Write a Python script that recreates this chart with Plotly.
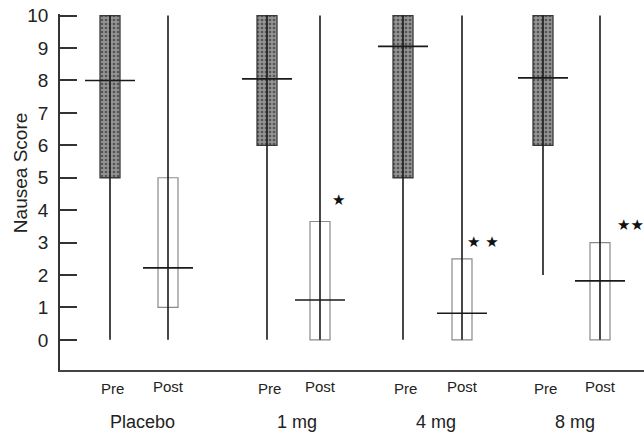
import plotly.graph_objects as go

# ---- data ----
groups = ["Placebo", "1 mg", "4 mg", "8 mg"]
phases = ["Pre", "Post"]
pre_min = [0, 0, 0, 2]
pre_q1 = [5, 6, 5, 6]
pre_med = [8, 8.05, 9.05, 8.08]
pre_q3 = [10, 10, 10, 10]
pre_max = [10, 10, 10, 10]
post_min = [0, 0, 0, 0]
post_q1 = [1, 0, 0, 0]
post_med = [2.22, 1.23, 0.82, 1.82]
post_q3 = [5, 3.65, 2.5, 3.0]
post_max = [10, 10, 10, 10]
sig_labels = ["", "★", "★ ★", "★★"]
sig_y = [None, 4.32, 3.02, 3.55]
y_ticks = list(range(0, 11))

# ---- layout positions (x axis in pixel-like units) ----
pre_x = [110, 267, 403, 543]
post_x = [168, 320, 462, 600]
sig_x = [None, 338, 483, 630]
box_w = 20
med_half = 25

fig = go.Figure()

def add_series(xs, mins, q1s, meds, q3s, maxs, marker):
    fig.add_trace(go.Bar(
        x=xs, y=[q3 - q1 for q1, q3 in zip(q1s, q3s)], base=q1s, width=box_w,
        marker=marker, showlegend=False, hoverinfo="skip"))
    wx, wy = [], []
    for x, lo, hi in zip(xs, mins, maxs):
        wx += [x, x, None]
        wy += [lo, hi, None]
    fig.add_trace(go.Scatter(x=wx, y=wy, mode="lines",
                             line=dict(color="#1a1a1a", width=1.6),
                             showlegend=False, hoverinfo="skip"))
    mx, my = [], []
    for x, m in zip(xs, meds):
        mx += [x - med_half, x + med_half, None]
        my += [m, m, None]
    fig.add_trace(go.Scatter(x=mx, y=my, mode="lines",
                             line=dict(color="#1a1a1a", width=1.6),
                             showlegend=False, hoverinfo="skip"))

add_series(pre_x, pre_min, pre_q1, pre_med, pre_q3, pre_max,
           dict(color="#8c8c8c", line=dict(color="#3a3a3a", width=1.3),
                pattern=dict(shape=".", bgcolor="#949494", fgcolor="#555555",
                             size=4, solidity=0.35, fillmode="replace")))
add_series(post_x, post_min, post_q1, post_med, post_q3, post_max,
           dict(color="white", line=dict(color="#8a8a8a", width=1.2)))

for x, y, t in zip(sig_x, sig_y, sig_labels):
    if t:
        fig.add_annotation(x=x, y=y, text=t, showarrow=False, xanchor="center",
                           yanchor="middle",
                           font=dict(size=15, color="#111111", family="DejaVu Sans"))

for g, px, qx in zip(groups, pre_x, post_x):
    fig.add_annotation(x=px + 2, y=0, yref="paper", yshift=-18, text=phases[0],
                       showarrow=False, yanchor="middle", font=dict(size=15, color="#222"))
    fig.add_annotation(x=qx, y=0, yref="paper", yshift=-16, text=phases[1],
                       showarrow=False, yanchor="middle", font=dict(size=15, color="#222"))
    fig.add_annotation(x=(px + qx) / 2 + 3, y=0, yref="paper", yshift=-52, text=g,
                       showarrow=False, yanchor="middle", font=dict(size=18, color="#222"))

fig.add_annotation(x=0, xref="paper", xshift=-40, y=0.553, yref="paper",
                   text="Nausea Score", textangle=-90, showarrow=False,
                   xanchor="center", yanchor="middle",
                   font=dict(size=19, color="#222"))

fig.update_layout(
    width=644, height=435,
    margin=dict(l=60, r=0, t=14, b=65, pad=0),
    paper_bgcolor="white", plot_bgcolor="white",
    font=dict(family="Liberation Sans, Arial, sans-serif", color="#222"),
    barmode="overlay",
    xaxis=dict(range=[60, 644], showgrid=False, zeroline=False, showticklabels=False,
               ticks="", showline=True, linecolor="#444", linewidth=1.5),
    yaxis=dict(range=[-0.93, 10.05], tickvals=y_ticks, showgrid=False, zeroline=False,
               ticks="inside", ticklen=17, tickwidth=1.5, tickcolor="#333",
               showline=True, linecolor="#333", linewidth=1.5,
               ticklabelstandoff=6, ticklabeloverflow="allow",
               tickfont=dict(size=19, color="#222")),
)

fig.write_html("out.html", config={"displayModeBar": False},
               post_script="document.body.style.margin='0';document.body.style.overflow='hidden';")
